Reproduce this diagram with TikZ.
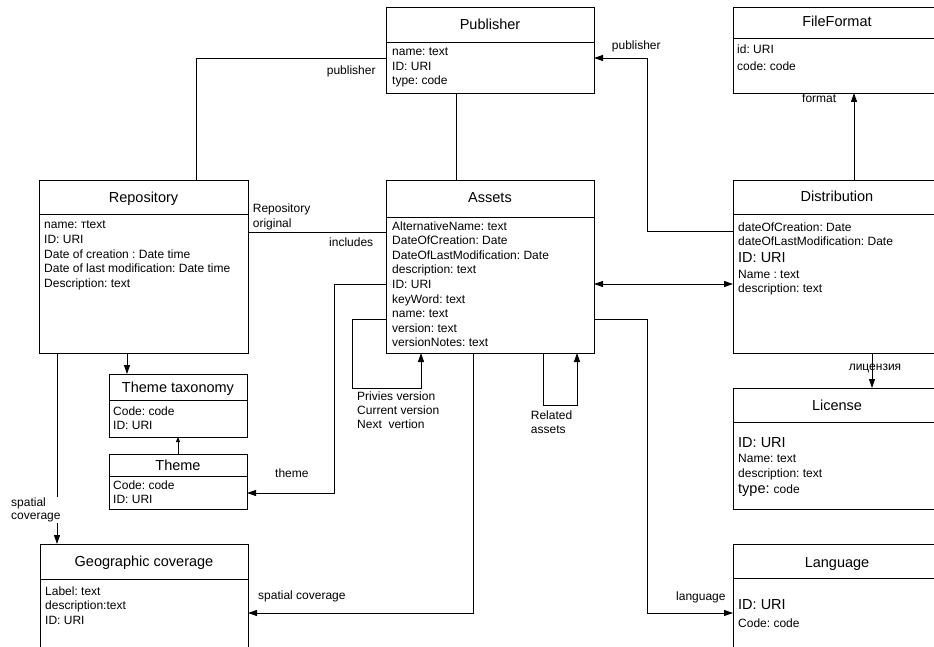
\documentclass[tikz,border=0pt]{standalone}
\usepackage{fontspec}
\setmainfont{Liberation Sans}
\usetikzlibrary{arrows.meta,calc}
\frenchspacing
\newcommand\fs{\fontsize{12}{14.5}\selectfont}
\newcommand\fb{\fontsize{14.5}{17}\selectfont}
\newcommand\umlbox[8]{%
  \node[umlrect, minimum width={#4-#2}, minimum height={#5-#3}] (#1) at (#2,#3) {};
  \draw[conn] ($(#1.north west)+(0,#6-#3)$) -- ($(#1.north east)+(0,#6-#3)$);
  \node[ttl] (#1-t) at ({(#2+#4)/2},#8) {#7};
}
\newcommand\flds[5]{%
  \foreach \t [count=\i] in {#5} \node[fld] (#1-f\i) at (#2,{#3+(\i-1)*#4}) {\t};
}
\begin{document}
\begin{tikzpicture}[x=1pt,y=-1pt,
  umlrect/.style={draw, line width=0.9pt, inner sep=0pt, outer sep=0pt, anchor=north west},
  conn/.style={line width=0.9pt},
  arr/.style={conn, -{Triangle[length=9pt,width=6pt]}},
  arrs/.style={conn, -{Triangle[length=5pt,width=4pt]}},
  arrb/.style={conn, {Triangle[length=9pt,width=6pt]}-{Triangle[length=9pt,width=6pt]}},
  fld/.style={anchor=base west, inner sep=0pt, font=\fs},
  big/.style={anchor=base west, inner sep=0pt, font=\fb},
  ttl/.style={anchor=base, inner sep=0pt, font=\fb},
  lbl/.style={anchor=base west, inner sep=0pt, font=\fs}]
\fill[white] (0,0) rectangle (934,647);
\clip (0,0) rectangle (934,647);

% boxes
\umlbox{pub}{386}{7}{594}{93}{42}{Publisher}{29.5}
\flds{pub}{392}{56}{14.5}{name: text, ID: URI, type: code}

\umlbox{ff}{733}{7}{941}{93}{38}{FileFormat}{27}
\flds{ff}{737}{53.3}{17}{id: URI, code: code}

\umlbox{rep}{39}{180}{248}{353}{214}{Repository}{202.7}
\flds{rep}{44}{229}{14.5}{name: тtext, ID: URI, Date of creation : Date time, Date of last modification: Date time, Description: text}

\umlbox{ast}{386}{180}{594}{353}{217}{Assets}{203}
\flds{ast}{392}{230}{14.6}{AlternativeName: text, DateOfCreation: Date, DateOfLastModification: Date, description: text, ID: URI, keyWord: text, name: text, version: text, versionNotes: text}

\umlbox{dist}{733}{180}{941}{353}{214}{Distribution}{202}
\node[fld] (dist-f1) at (738,231) {dateOfCreation: Date};
\node[fld] (dist-f2) at (738,245) {dateOfLastModification: Date};
\node[big] (dist-f3) at (738,262) {ID: URI};
\node[fld] (dist-f4) at (738,278) {Name : text};
\node[fld] (dist-f5) at (738,292) {description: text};

\umlbox{lic}{733}{388}{941}{509}{422}{License}{410.7}
\node[big] (lic-f1) at (738,447) {ID: URI};
\node[fld] (lic-f2) at (738,462) {Name: text};
\node[fld] (lic-f3) at (738,477) {description: text};
\node[big] (lic-f4) at (738,493) {type: {\fs code}};

\umlbox{lang}{733}{544}{941}{680}{578}{Language}{567}
\node[big] (lang-f1) at (738,609) {ID: URI};
\node[fld] (lang-f2) at (738,627) {Code: code};

\umlbox{tt}{109}{374}{247}{437}{400}{Theme taxonomy}{392}
\flds{tt}{113}{415}{14.5}{Code: code, ID: URI}

\umlbox{th}{109}{454}{247}{509}{476}{Theme}{470}
\flds{th}{113}{489}{14.5}{Code: code, ID: URI}

\umlbox{geo}{40}{544}{248}{680}{579}{Geographic coverage}{566}
\flds{geo}{45}{595}{14.5}{Label: text, description:text, ID: URI}

% connectors
\draw[conn] ($(rep.north west)+(157,0)$) |- ($(pub.north west)+(0,51)$);
\draw[conn] ($(pub.south west)+(70,0)$) -- ($(ast.north west)+(70,0)$);
\draw[conn] ($(rep.north east)+(0,52)$) -- ($(ast.north west)+(0,52)$);
\draw[arr] ($(dist.north west)+(0,51)$) -- ($(dist.north west)+(-86,51)$) |- ($(pub.north east)+(0,51)$);
\draw[arr] ($(dist.north west)+(121,0)$) -- ($(ff.south west)+(121,0)$);
\draw[arrb] ($(ast.north east)+(0,104)$) -- ($(dist.north west)+(0,104)$);
\draw[arr] ($(ast.north east)+(0,139)$) -- ($(ast.north east)+(53,139)$) |- ($(lang.north west)+(0,69)$);
\draw[arr] ($(dist.south west)+(139,0)$) -- ($(lic.north west)+(139,0)$);
\draw[arr] ($(rep.south west)+(88,0)$) -- ($(tt.north west)+(18,0)$);
\draw[arrs] ($(th.north west)+(69,0)$) -- ($(tt.south west)+(69,0)$);
\draw[arr] ($(rep.south west)+(18,0)$) -- ($(geo.north west)+(17,0)$);
\draw[arr] ($(ast.south west)+(87,0)$) |- ($(geo.north east)+(0,69)$);
\draw[arr] ($(ast.north west)+(0,104)$) -- ($(ast.north west)+(-52,104)$) |- ($(th.north east)+(0,39)$);
\draw[arr] ($(ast.north west)+(0,139)$) -- ($(ast.north west)+(-34,139)$) |- ($(ast.south west)+(35,35)$) -- ($(ast.south west)+(35,0)$);
\draw[arr] ($(ast.south west)+(157,0)$) |- ($(ast.south west)+(191,52)$) -- ($(ast.south west)+(191,0)$);

% labels
\node[lbl] (lpub1) at (611.7,49.3) {publisher};
\node[lbl] (lpub2) at (326.7,74.3) {publisher};
\node[lbl] (lfmt) at (802,103) {format};
\node[lbl] (lrep1) at (252.7,212) {Repository};
\node[lbl] (lrep2) at (252.7,227) {original};
\node[lbl] (linc) at (329,247) {includes};
\node[lbl, anchor=base] (llic) at (875,370) {лицензия};
\node[lbl] (llang) at (676,600.7) {language};
\node[lbl] (lsp2) at (258,599) {spatial coverage};
\node[lbl] (lth) at (275,477.7) {theme};
\node[lbl] (lver1) at (357,400) {Privies version};
\node[lbl] (lver2) at (357,414) {Current version};
\node[lbl] (lver3) at (357,428) {Next\ \ vertion};
\node[lbl] (lrel1) at (530.7,419) {Related};
\node[lbl] (lrel2) at (530.7,433) {assets};
\node[anchor=north west, inner sep=1pt, fill=white, align=left, font=\fontsize{12}{13}\selectfont] (lsp1) at (10,497) {spatial\\coverage};
\end{tikzpicture}
\end{document}
